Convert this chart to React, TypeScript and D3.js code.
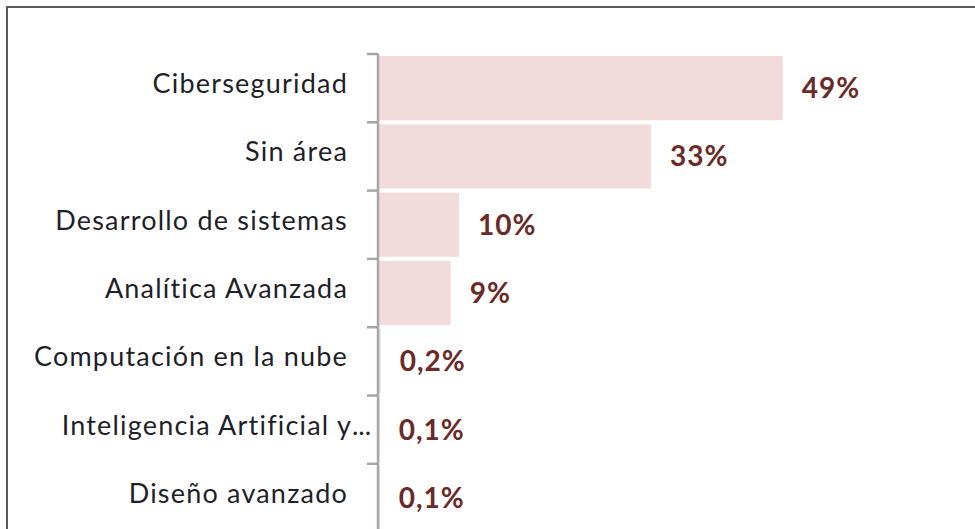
import React, { useEffect, useRef } from 'react';
import * as d3 from 'd3';

// chart data (share of projects by area)
const categories = [
  'Ciberseguridad',
  'Sin área',
  'Desarrollo de sistemas',
  'Analítica Avanzada',
  'Computación en la nube',
  'Inteligencia Artificial y...',
  'Diseño avanzado',
];
const values = [49, 33, 9.7, 8.7, 0.2, 0.1, 0.1];
const valueLabels = ['49%', '33%', '10%', '9%', '0,2%', '0,1%', '0,1%'];

const W = 975;
const H = 529;

const App = () => {
  const svgRef = useRef(null);

  useEffect(() => {
    const svg = d3.select(svgRef.current);
    svg.selectAll('*').remove();

    const axisX = 378;
    const font = 'Lato, "Open Sans", sans-serif';

    // scales
    const xScale = d3.scaleLinear().domain([0, 50]).range([axisX + 1, axisX + 1 + 412]);
    const yScale = d3
      .scaleBand()
      .domain(categories)
      .range([54, 54 + 68.3 * categories.length])
      .paddingInner(0.06)
      .paddingOuter(0.03);

    // background + outer frame
    svg.append('rect').attr('width', W).attr('height', H).attr('fill', '#ffffff');
    svg
      .append('rect')
      .attr('x', 7)
      .attr('y', 7)
      .attr('width', W + 20)
      .attr('height', H + 20)
      .attr('fill', 'none')
      .attr('stroke', '#5a5a5a')
      .attr('stroke-width', 2);

    const data = categories.map((c, i) => ({ cat: c, value: values[i], label: valueLabels[i] }));

    // bars
    svg
      .selectAll('rect.bar')
      .data(data)
      .enter()
      .append('rect')
      .attr('class', 'bar')
      .attr('x', xScale(0))
      .attr('y', d => yScale(d.cat))
      .attr('width', d => xScale(d.value) - xScale(0))
      .attr('height', yScale.bandwidth())
      .attr('fill', '#f2dcdb');

    // y axis line with tick marks on band boundaries
    const step = yScale.step();
    const top = yScale.range()[0];
    const bounds = d3.range(categories.length + 1).map(i => top + i * step);
    svg
      .append('line')
      .attr('x1', axisX)
      .attr('x2', axisX)
      .attr('y1', top)
      .attr('y2', H + 10)
      .attr('stroke', '#a6a6a6')
      .attr('stroke-width', 2.5);
    svg
      .selectAll('line.tick')
      .data(bounds)
      .enter()
      .append('line')
      .attr('class', 'tick')
      .attr('x1', axisX - 11)
      .attr('x2', axisX)
      .attr('y1', d => d)
      .attr('y2', d => d)
      .attr('stroke', '#a6a6a6')
      .attr('stroke-width', 2.5);

    // category labels (the truncated one keeps its ellipsis past the label edge)
    const labelG = svg
      .append('g')
      .attr('font-family', font)
      .attr('font-size', 27)
      .attr('letter-spacing', 1.2)
      .attr('fill', '#1f1f2a');
    data.forEach(d => {
      const cy = yScale(d.cat) + yScale.bandwidth() / 2 + 5;
      if (d.cat.endsWith('...')) {
        labelG
          .append('text')
          .attr('x', axisX - 26)
          .attr('y', cy)
          .attr('text-anchor', 'end')
          .text(d.cat.slice(0, -3));
        labelG.append('text').attr('x', axisX - 26).attr('y', cy).attr('letter-spacing', 0).text('...');
      } else {
        labelG
          .append('text')
          .attr('x', axisX - 30)
          .attr('y', cy)
          .attr('text-anchor', 'end')
          .text(d.cat);
      }
    });

    // value labels
    svg
      .append('g')
      .attr('font-family', font)
      .attr('font-size', 28)
      .attr('font-weight', 'bold')
      .attr('letter-spacing', 1)
      .attr('fill', '#6b2a28')
      .selectAll('text')
      .data(data)
      .enter()
      .append('text')
      .attr('x', d => xScale(d.value) + 19)
      .attr('y', d => yScale(d.cat) + yScale.bandwidth() / 2 + 10)
      .text(d => d.label);
  }, []);

  return (
    <svg
      ref={svgRef}
      width={W}
      height={H}
      style={{ position: 'absolute', left: 0, top: 0, display: 'block' }}
    ></svg>
  );
};

export default App;
